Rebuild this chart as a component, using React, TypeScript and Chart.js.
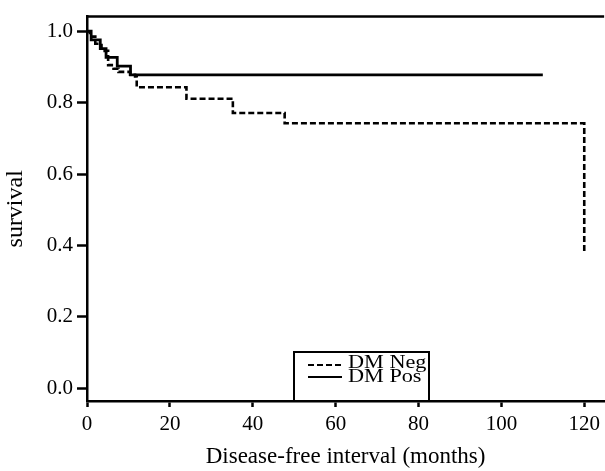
import React, { useEffect, useRef } from "react";
import { Chart, registerables } from "chart.js";

Chart.register(...registerables);

// Kaplan-Meier style survival curves (step points: month of event, survival after event)
const negMonths = [0, 0.7, 2, 3.5, 5.1, 6.4, 7.6, 10.4, 11.6, 12, 24, 35.2, 47.7, 120, 120];
const negSurvival = [1, 0.985, 0.965, 0.945, 0.905, 0.895, 0.886, 0.878, 0.873, 0.843, 0.811, 0.771, 0.742, 0.742, 0.381];
const posMonths = [0, 1, 3.2, 4.6, 7.3, 10.5, 110];
const posSurvival = [1, 0.976, 0.951, 0.927, 0.902, 0.878, 0.878];

const seriesLabels = ["DM Neg", "DM Pos"];
const xTickValues = [0, 20, 40, 60, 80, 100, 120];
const yTickValues = [0, 0.2, 0.4, 0.6, 0.8, 1.0];
const xTitle = "Disease-free interval (months)";
const yTitle = "survival";

const FONT = "'Liberation Serif', 'Times New Roman', serif";

const frameAndLegend = {
  id: "frameAndLegend",
  afterDatasetsDraw(chart: any) {
    const { ctx, chartArea } = chart;
    ctx.save();
    // top frame line
    ctx.strokeStyle = "#000";
    ctx.lineWidth = 2.5;
    ctx.beginPath();
    ctx.moveTo(chartArea.left - 1, chartArea.top);
    ctx.lineTo(chartArea.right, chartArea.top);
    ctx.stroke();

    // legend box
    const boxLeft = chartArea.left + 207;
    const boxW = 135;
    const boxH = 49;
    const boxTop = chartArea.bottom - boxH;
    ctx.fillStyle = "#fff";
    ctx.fillRect(boxLeft, boxTop, boxW, boxH);
    ctx.lineWidth = 2;
    ctx.strokeStyle = "#000";
    ctx.strokeRect(boxLeft, boxTop, boxW, boxH);

    const datasets = chart.data.datasets;
    const lineY = [boxTop + 13, boxTop + 25];
    const textBase = [boxTop + 16, boxTop + 30];
    datasets.forEach((ds: any, i: number) => {
      const y = lineY[i];
      ctx.beginPath();
      ctx.setLineDash(ds.borderDash || []);
      ctx.lineWidth = 2.2;
      ctx.strokeStyle = ds.borderColor;
      ctx.moveTo(boxLeft + 14, y);
      ctx.lineTo(boxLeft + 48, y);
      ctx.stroke();
      ctx.setLineDash([]);
      ctx.fillStyle = "#000";
      ctx.font = `19px ${FONT}`;
      ctx.textBaseline = "alphabetic";
      ctx.textAlign = "left";
      ctx.save();
      ctx.translate(boxLeft + 54, textBase[i]);
      ctx.scale(1.17, 1);
      ctx.fillText(ds.label, 0, 0);
      ctx.restore();
    });
    ctx.restore();
  },
};

export default function App() {
  const canvasRef = useRef<HTMLCanvasElement | null>(null);

  useEffect(() => {
    document.body.style.margin = "0";
    const canvas = canvasRef.current;
    if (!canvas) return;
    const chart = new Chart(canvas, {
      type: "line",
      data: {
        datasets: [
          {
            label: seriesLabels[0],
            data: negMonths.map((m, i) => ({ x: m, y: negSurvival[i] })),
            borderColor: "#000",
            borderWidth: 2.6,
            borderDash: [6, 3],
            stepped: "before",
            pointRadius: 0,
            fill: false,
          },
          {
            label: seriesLabels[1],
            data: posMonths.map((m, i) => ({ x: m, y: posSurvival[i] })),
            borderColor: "#000",
            borderWidth: 2.8,
            stepped: "before",
            pointRadius: 0,
            fill: false,
          },
        ],
      },
      options: {
        responsive: false,
        animation: false,
        devicePixelRatio: 1,
        layout: { padding: { top: 11, right: 0, left: 0, bottom: 0 } },
        plugins: {
          legend: { display: false },
          tooltip: { enabled: false },
        },
        scales: {
          x: {
            type: "linear",
            min: 0,
            max: 124.8,
            afterFit: (s: any) => {
              s.height = 70;
            },
            afterBuildTicks: (s: any) => {
              s.ticks = xTickValues.map((v) => ({ value: v }));
            },
            ticks: {
              color: "#000",
              font: { family: FONT, size: 21 },
              padding: 5,
              maxRotation: 0,
              includeBounds: false,
              callback: (v: any) => String(v),
            },
            grid: {
              display: true,
              drawOnChartArea: false,
              drawTicks: true,
              tickLength: 6,
              tickColor: "#000",
              tickWidth: 2.5,
            },
            border: { display: true, color: "#000", width: 2.5 },
            title: {
              display: true,
              text: xTitle,
              color: "#000",
              font: { family: FONT, size: 23 },
              padding: { top: 0, bottom: 0 },
            },
          },
          y: {
            type: "linear",
            min: -0.036,
            max: 1.041,
            afterFit: (s: any) => {
              s.width = 87;
            },
            afterBuildTicks: (s: any) => {
              s.ticks = yTickValues.map((v) => ({ value: v }));
            },
            ticks: {
              color: "#000",
              font: { family: FONT, size: 21 },
              padding: 4,
              includeBounds: false,
              callback: (v: any) => Number(v).toFixed(1),
            },
            grid: {
              display: true,
              drawOnChartArea: false,
              drawTicks: true,
              tickLength: 10,
              tickColor: "#000",
              tickWidth: 2.5,
            },
            border: { display: true, color: "#000", width: 2.5 },
            title: {
              display: true,
              text: yTitle,
              color: "#000",
              font: { family: FONT, size: 24 },
              padding: { top: 1, bottom: 0 },
            },
          },
        },
      },
      plugins: [frameAndLegend],
    } as any);
    return () => chart.destroy();
  }, []);

  return (
    <div style={{ width: 605, height: 471 }}>
      <canvas ref={canvasRef} width={605} height={471} style={{ display: "block" }} />
    </div>
  );
}
